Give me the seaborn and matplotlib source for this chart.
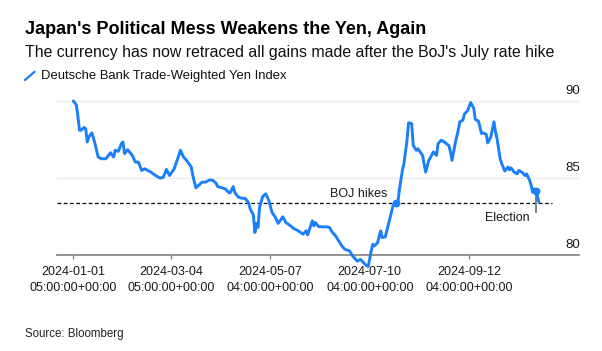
"""
Deutsche Bank trade-weighted yen index, 2024 (Bloomberg style chart)
"""

import matplotlib.pyplot as plt
import pandas as pd
import seaborn as sns
from matplotlib.lines import Line2D

start = pd.Timestamp("2024-01-01")

# days since 2024-01-01
day_offsets = [
    0, 2, 3, 4, 5, 7, 8, 9, 10, 12,
    14, 16, 18, 21, 24, 26, 27, 29, 31, 32,
    33, 35, 38, 40, 42, 44, 46, 48, 50, 53,
    56, 58, 60, 62, 65, 68, 69, 71, 73, 76,
    77, 79, 81, 83, 85, 88, 90, 92, 93, 96,
    98, 100, 101, 103, 104, 106, 108, 111, 113, 114,
    116, 117, 118, 119, 120, 122, 124, 126, 128, 130,
    132, 135, 137, 140, 142, 145, 148, 150, 151, 154,
    155, 156, 158, 160, 163, 165, 167, 169, 171, 173,
    175, 178, 180, 183, 185, 187, 189, 190, 192, 193,
    194, 196, 198, 199, 201, 203, 204, 206, 208, 209,
    210, 212, 213, 215, 216, 218, 219, 221, 222, 224,
    225, 227, 229, 232, 234, 235, 237, 239, 242, 243,
    244, 246, 248, 249, 251, 252, 254, 256, 258, 259,
    261, 263, 264, 266, 267, 269, 271, 272, 273, 275,
    276, 278, 280, 281, 282, 284, 286, 287, 289, 291,
    292, 294, 295, 296, 297, 298, 300,
]
index_values = [
    90.0, 89.74, 88.98, 88.1, 88.1, 88.28, 88.2, 87.34, 87.67, 87.93,
    87.23, 86.36, 86.25, 86.25, 86.64, 86.36, 86.8, 86.73, 87.23, 87.34,
    86.58, 86.84, 86.47, 86.03, 86.03, 85.49, 85.6, 85.49, 85.38, 85.16,
    84.99, 85.05, 85.56, 85.16, 85.6, 86.47, 86.8, 86.36, 86.14, 85.71,
    85.16, 84.36, 84.55, 84.73, 84.73, 84.88, 84.84, 84.66, 84.44, 84.36,
    84.29, 84.07, 84.03, 84.44, 84.07, 83.79, 83.7, 83.66, 83.36, 82.98,
    82.61, 81.46, 82.05, 81.79, 83.09, 83.79, 83.97, 83.53, 82.77, 82.48,
    82.05, 82.48, 82.11, 81.89, 81.72, 81.57, 81.35, 81.57, 81.31, 82.22,
    81.89, 82.11, 81.85, 81.83, 81.83, 81.79, 81.46, 81.24, 80.91, 80.59,
    80.37, 80.26, 79.93, 79.6, 79.71, 79.5, 79.3, 79.25, 80.3, 80.7,
    80.59, 80.8, 81.57, 81.13, 81.18, 82.0, 82.44, 83.2, 83.4, 83.3,
    84.18, 85.49, 85.93, 87.45, 88.58, 88.54, 87.12, 86.8, 86.9, 86.62,
    86.47, 85.38, 86.14, 86.69, 86.47, 87.23, 87.45, 87.34, 87.1, 86.69,
    86.14, 87.23, 88.1, 88.65, 88.76, 89.15, 89.37, 89.9, 89.52, 88.8,
    88.7, 87.89, 87.93, 87.84, 87.28, 87.67, 88.65, 88.0, 87.56, 86.25,
    85.93, 85.45, 85.71, 85.53, 85.66, 85.38, 85.27, 85.49, 85.38, 85.16,
    85.27, 84.84, 84.51, 84.07, 84.29, 84.18, 83.42,
]

tick_dates = ["2024-01-01", "2024-03-04", "2024-05-07", "2024-07-10", "2024-09-12"]
tick_times = ["05:00:00+00:00", "05:00:00+00:00", "04:00:00+00:00",
              "04:00:00+00:00", "04:00:00+00:00"]
y_ticks = [80, 85, 90]

boj_date = pd.Timestamp("2024-07-27")
boj_level = 83.4
election_date = pd.Timestamp("2024-10-25")
election_level = 84.18

BLUE = "#1a7ff8"

df = pd.DataFrame({
    "date": start + pd.to_timedelta(day_offsets, unit="D"),
    "value": index_values,
})

sns.set_theme(style="white")
plt.rcParams["font.family"] = ["Liberation Sans", "DejaVu Sans"]

W, H = 602, 351
fig = plt.figure(figsize=(W / 100, H / 100), dpi=100)
ax = fig.add_axes([57.3 / W, 96 / H, 521.7 / W, 161.7 / H])

sns.lineplot(data=df, x="date", y="value", ax=ax, color=BLUE, linewidth=2.1, zorder=4)
for ln in ax.lines:
    ln.set_clip_on(False)

ax.set_xlim(start - pd.Timedelta(days=10.3), start + pd.Timedelta(days=325.8))
ax.set_ylim(80, 90.5)

# BOJ hike level
ax.hlines(boj_level, start - pd.Timedelta(days=10.3), start + pd.Timedelta(days=308.5),
          colors="black", linestyles=(0, (3, 2)), linewidth=0.9, zorder=3)
ax.plot([boj_date], [boj_level], "o", color=BLUE, markersize=4.6, zorder=5, clip_on=False)
ax.annotate("BOJ hikes", xy=(boj_date, boj_level), xytext=(-6.3, 4.1),
            textcoords="offset points", ha="right", va="baseline",
            fontsize=9, color="#1a1a1a")

# election
ax.vlines(election_date, 82.75, election_level, colors="#7a7a7a", linewidth=1.3, zorder=3)
ax.plot([election_date], [election_level], "o", color=BLUE, markersize=4.6, zorder=5)
ax.annotate("Election", xy=(election_date, election_level), xytext=(-4.8, -21.6),
            textcoords="offset points", ha="right", va="baseline",
            fontsize=9, color="#1a1a1a")

# axes styling
ax.set_xlabel("")
ax.set_ylabel("")
ax.set_yticks(y_ticks)
ax.tick_params(axis="y", left=False, labelleft=False)
ax.grid(axis="y", color="#ececec", linewidth=1)
ax.grid(axis="x", visible=False)
for side in ["left", "right", "top"]:
    ax.spines[side].set_visible(False)
ax.spines["bottom"].set_color("#8a8a8a")
ax.spines["bottom"].set_linewidth(1.3)
ax.spines["bottom"].set_zorder(2)

ax.set_xticks(pd.to_datetime(tick_dates))
ax.set_xticklabels([f"{d}\n{t}" for d, t in zip(tick_dates, tick_times)])
ax.tick_params(axis="x", bottom=True, length=3, width=0.9, color="#7a7a7a",
               pad=5, labelsize=9, labelcolor="#1a1a1a")
for lbl in ax.get_xticklabels():
    lbl.set_linespacing(1.42)

for v in y_ticks:
    ax.annotate(str(v), xy=(1.0, v), xycoords=("axes fraction", "data"),
                xytext=(0.7, 5), textcoords="offset points", ha="right",
                va="baseline", fontsize=9.5, color="#1a1a1a")

# header, legend and source
fig.text(25 / W, 1 - 34.3 / H, "Japan's Political Mess Weakens the Yen, Again",
         fontsize=13, fontweight="bold", color="black", va="baseline")
fig.text(25 / W, 1 - 57.3 / H,
         "The currency has now retraced all gains made after the BoJ's July rate hike",
         fontsize=11.45, color="#111111", va="baseline")
fig.add_artist(Line2D([25 / W, 34.6 / W], [1 - 80 / H, 1 - 71.7 / H],
                      transform=fig.transFigure, color=BLUE, linewidth=1.6))
fig.text(41.5 / W, 1 - 79 / H, "Deutsche Bank Trade-Weighted Yen Index",
         fontsize=9.4, color="#111111", va="baseline")
fig.text(25 / W, 1 - 336.7 / H, "Source: Bloomberg",
         fontsize=8.3, color="#222222", va="baseline")

fig.savefig("out.png", dpi=100)
